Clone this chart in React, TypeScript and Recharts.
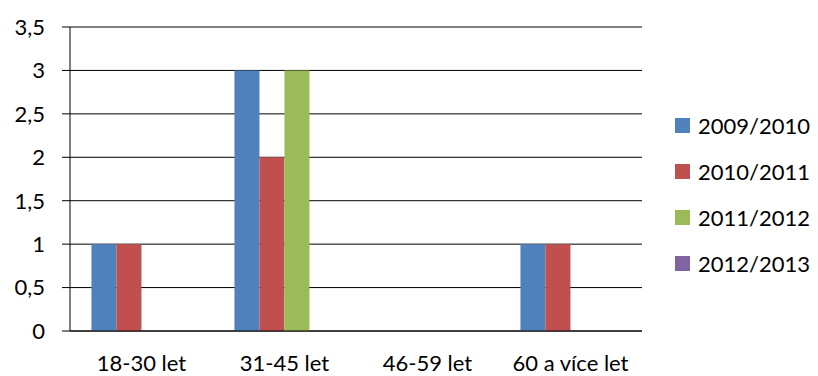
import React from 'react';
import { BarChart, Bar, XAxis, YAxis, CartesianGrid, Legend } from 'recharts';

const categories = ['18-30 let', '31-45 let', '46-59 let', '60 a více let'];
const seriesNames = ['2009/2010', '2010/2011', '2011/2012', '2012/2013'];
const s2009 = [1, 3, 0, 1];
const s2010 = [1, 2, 0, 1];
const s2011 = [0, 3, 0, 0];
const s2012 = [0, 0, 0, 0];
const colors = ['#4F81BD', '#C0504D', '#9BBB59', '#8064A2'];
const yTicks = [0, 0.5, 1, 1.5, 2, 2.5, 3, 3.5];

const seriesValues = [s2009, s2010, s2011, s2012];
const data = categories.map((c, i) => {
  const row: Record<string, any> = { name: c };
  seriesNames.forEach((s, j) => {
    row[s] = seriesValues[j][i];
  });
  return row;
});

const FONT = 'Lato, "Open Sans", sans-serif';

const LegendContent = () => (
  <div style={{ fontFamily: FONT, fontSize: 22, color: '#000' }}>
    {seriesNames.map((s, i) => (
      <div key={s} style={{ display: 'flex', alignItems: 'center', height: 46 }}>
        <span style={{ display: 'inline-block', width: 15, height: 15, background: colors[i], marginRight: 8 }} />
        <span>{s}</span>
      </div>
    ))}
  </div>
);

export default function App() {
  return (
    <div style={{ position: 'absolute', left: 0, top: 0 }}>
      <BarChart
        width={818}
        height={376}
        data={data}
        margin={{ top: 27, right: 176, bottom: 0, left: 0 }}
        barCategoryGap="15%"
        barGap={0}
      >
        <CartesianGrid horizontal vertical={false} stroke="#000" strokeWidth={1} />
        <XAxis
          dataKey="name"
          height={45}
          tickLine={false}
          axisLine={{ stroke: '#000' }}
          tick={{ fill: '#000', fontSize: 22, fontFamily: FONT }}
          tickMargin={18}
        />
        <YAxis
          width={70}
          domain={[0, 3.5]}
          ticks={yTicks}
          interval={0}
          tickFormatter={(v: number) => String(v).replace('.', ',')}
          axisLine={{ stroke: '#000' }}
          tickLine={{ stroke: '#000' }}
          tickSize={8}
          tickMargin={17}
          tick={{ fill: '#000', fontSize: 22, fontFamily: FONT }}
        />
        {seriesNames.map((s, i) => (
          <Bar key={s} dataKey={s} fill={colors[i]} isAnimationActive={false} />
        ))}
        <Legend
          layout="vertical"
          align="center"
          verticalAlign="middle"
          content={<LegendContent />}
          wrapperStyle={{ position: 'absolute', left: 675, top: 102, width: 143 }}
        />
      </BarChart>
    </div>
  );
}
